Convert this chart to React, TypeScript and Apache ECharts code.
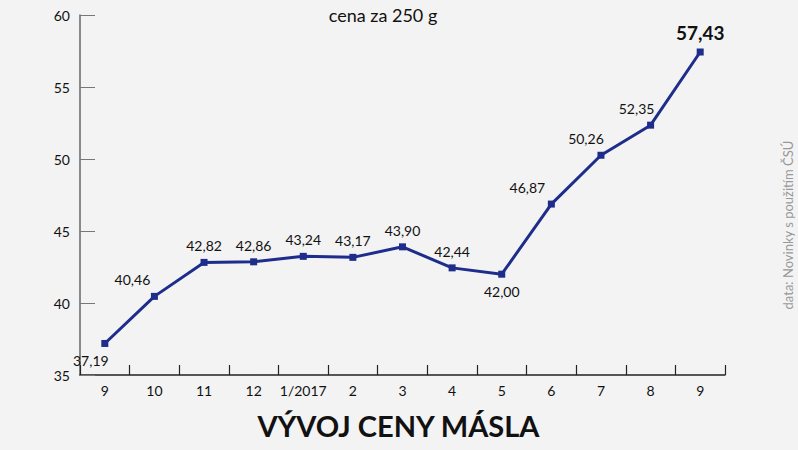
import React, { useEffect, useRef } from "react";
import * as echarts from "echarts";

const categories = ["9", "10", "11", "12", "1/2017", "2", "3", "4", "5", "6", "7", "8", "9"];
const prices = [37.19, 40.46, 42.82, 42.86, 43.24, 43.17, 43.9, 42.44, 42.0, 46.87, 50.26, 52.35, 57.43];
const labelsBelow = [0, 8];
const highlighted = [12];
const yTicks = { min: 35, max: 60, interval: 5 };
const title = "VÝVOJ CENY MÁSLA";
const subtitle = "cena za 250 g";
const source = "data: Novinky s použitím ČSÚ";

const FONT = "Lato, 'Liberation Sans', sans-serif";

export default function App() {
  const ref = useRef<HTMLDivElement>(null);
  useEffect(() => {
    if (!ref.current) return;
    const chart = echarts.init(ref.current, null, { renderer: "svg" });
    const fmt = (v: number) => v.toFixed(2).replace(".", ",");
    const leftShift: Record<number, number> = { 0: -14, 1: -22, 9: -24, 10: -15, 11: -14 };
    const data = prices.map((v, i) => {
      const item: any = { value: v };
      const label: any = {};
      if (labelsBelow.includes(i)) {
        label.position = "bottom";
        label.distance = 7;
      }
      if (highlighted.includes(i)) {
        label.fontSize = 19;
        label.fontWeight = "bold";
        label.distance = 7;
      }
      if (leftShift[i] !== undefined) label.offset = [leftShift[i], 0];
      if (Object.keys(label).length) item.label = label;
      return item;
    });
    chart.setOption({
      animation: false,
      backgroundColor: "#f3f3f3",
      grid: { left: 80, right: 73, top: 15, bottom: 75, containLabel: false },
      xAxis: {
        type: "category",
        data: categories,
        boundaryGap: true,
        axisLine: { show: true, lineStyle: { color: "#222", width: 1.5 } },
        axisTick: { show: true, inside: true, length: 10, interval: 0, lineStyle: { color: "#222", width: 1.2 } },
        axisLabel: { color: "#111", fontSize: 14, fontFamily: FONT, margin: 8, interval: 0 },
        splitLine: { show: false },
      },
      yAxis: {
        type: "value",
        min: yTicks.min,
        max: yTicks.max,
        interval: yTicks.interval,
        axisLine: { show: true, lineStyle: { color: "#666", width: 1.5 } },
        axisTick: { show: true, inside: true, length: 15, lineStyle: { color: "#777", width: 1 } },
        axisLabel: { color: "#111", fontSize: 14, fontFamily: FONT, margin: 10 },
        splitLine: { show: false },
      },
      series: [
        {
          type: "line",
          data,
          symbol: "rect",
          symbolSize: 7,
          lineStyle: { color: "#1e2d8c", width: 3 },
          itemStyle: { color: "#1e2d8c" },
          label: {
            show: true,
            position: "top",
            distance: 6,
            color: "#111",
            fontSize: 14,
            fontFamily: FONT,
            formatter: (p: any) => fmt(p.value),
          },
        },
      ],
      graphic: [
        {
          type: "text",
          left: "center",
          top: 411,
          style: { text: title, fontSize: 29, fontWeight: "bold", fill: "#111", fontFamily: FONT },
        },
        {
          type: "text",
          x: 383,
          y: 15,
          style: { text: subtitle, fontSize: 18, fill: "#111", fontFamily: FONT, align: "center", verticalAlign: "middle" },
        },
        {
          type: "text",
          x: 788,
          y: 225,
          rotation: Math.PI / 2,
          style: { text: source, fontSize: 13, fill: "#999", fontFamily: FONT, align: "center", verticalAlign: "middle" },
        },
      ],
    });
    return () => chart.dispose();
  }, []);
  return <div ref={ref} style={{ width: 798, height: 450, position: "absolute", left: 0, top: 0 }} />;
}
